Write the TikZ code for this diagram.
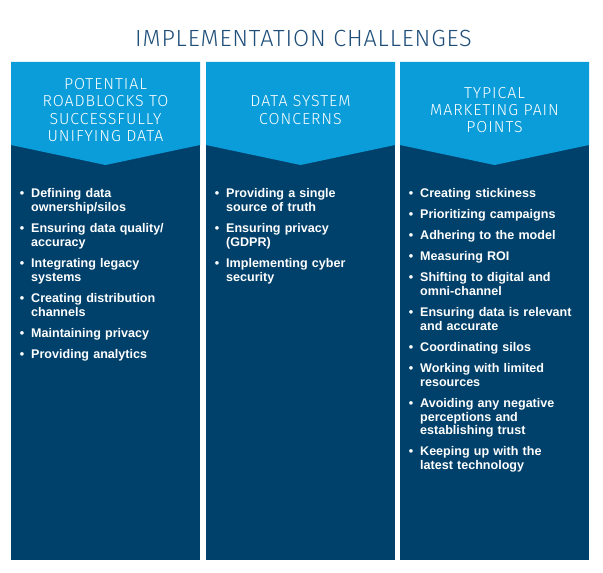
\documentclass[tikz,border=0pt]{standalone}
\usepackage{fontspec}
\usepackage{enumitem}
\setmainfont{Liberation Sans}
\newfontfamily\headfont{Fira Sans Light}
\usetikzlibrary{positioning}
\definecolor{skyblue}{HTML}{0A9DDA}
\definecolor{navy}{HTML}{00416B}
\definecolor{titleblue}{HTML}{1F4E79}
\tikzset{
  % column styles
  % gebruik: \fill[colback] ... en \fill[colhead] voor de pijlkop
  colback/.style={fill=navy},
  colhead/.style={fill=skyblue},
  % node styles (title, column heads, bullet lists)
  maintitle/.style={text=titleblue,inner sep=0pt,
    font=\headfont\addfontfeature{LetterSpace=3.7}\fontsize{23.5}{26}\selectfont},
  headtext/.style={text=white,align=center,inner sep=0pt,
    font=\headfont\addfontfeature{LetterSpace=6}\fontsize{16}{17.2}\selectfont},
  bullets/.style={text=white,text width=175bp,align=left,anchor=north west,inner sep=0pt,
    font=\bfseries\fontsize{12.6}{14}\selectfont},
  void/.style={inner sep=0pt,minimum size=0pt},
}
\newenvironment{blist}{\begin{itemize}[nosep,itemsep=7bp,leftmargin=10bp,labelsep=7bp,label=\textbullet]}{\end{itemize}}

\begin{document}
\begin{tikzpicture}[x=1bp,y=-1bp]
  \useasboundingbox (0,0) rectangle (603,573);
  \node[maintitle] (title) at (303.5,38) {IMPLEMENTATION CHALLENGES};
  \foreach \x in {11,206,400} {
    \fill[colback] (\x,62) rectangle ++(189,498);
    \fill[colhead] (\x,62) -- ++(189,0) -- ++(0,83) -- ++(-94.5,20) -- ++(-94.5,-20) -- cycle;
  }
  \node[headtext] (roadblocks) at (105.5,110) {POTENTIAL\\ROADBLOCKS TO\\SUCCESSFULLY\\UNIFYING DATA};
  \node[headtext] (datasystem) at (300.5,110) {DATA SYSTEM\\CONCERNS};
  \node[headtext] (painpoints) at (494.5,110) {TYPICAL\\MARKETING PAIN\\POINTS};
  \node[bullets] (roadlist) at (21,183.5) {\begin{blist}
    \item Defining data\\ownership/silos
    \item Ensuring data quality/\\accuracy
    \item Integrating legacy\\systems
    \item Creating distribution\\channels
    \item Maintaining privacy
    \item Providing analytics
  \end{blist}};
  \node[bullets] (datalist) at (216,183.5) {\begin{blist}
    \item Providing a single\\source of truth
    \item Ensuring privacy\\(GDPR)
    \item Implementing cyber\\security
  \end{blist}};
  \node[bullets] (painlist) at (410,183.5) {\begin{blist}
    \item Creating stickiness
    \item Prioritizing campaigns
    \item Adhering to the model
    \item Measuring ROI
    \item Shifting to digital and\\omni-channel
    \item Ensuring data is relevant\\and accurate
    \item Coordinating silos
    \item Working with limited\\resources
    \item Avoiding any negative\\perceptions and\\establishing trust
    \item Keeping up with the\\latest technology
  \end{blist}};
\end{tikzpicture}
\end{document}
